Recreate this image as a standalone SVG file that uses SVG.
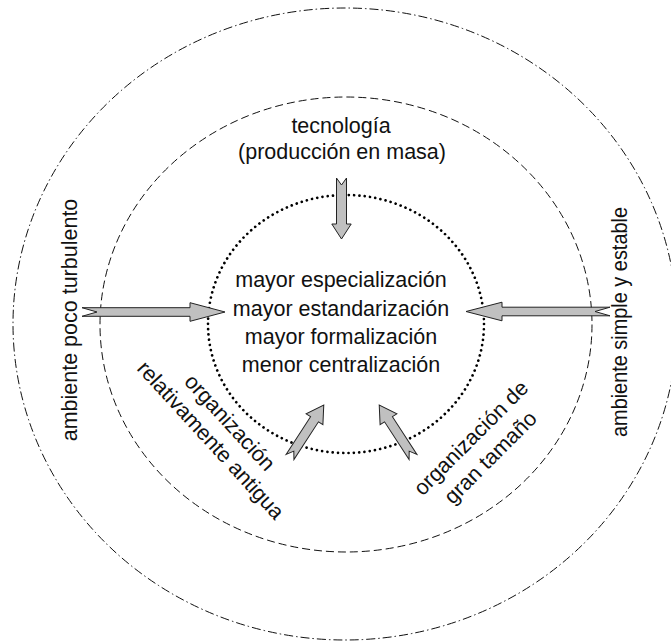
<svg xmlns="http://www.w3.org/2000/svg" width="671" height="641" viewBox="0 0 671 641">
<style>
.t{font-family:"Liberation Sans",Arial,sans-serif;font-size:21.5px;fill:#111;text-anchor:middle}
.arr{fill:#c0c0c0;stroke:#222;stroke-width:1;stroke-linejoin:miter}
</style>
<rect width="671" height="641" fill="#fff"/>
<g id="outer">
<ellipse cx="345" cy="324" rx="332" ry="316" fill="none" stroke="#111" stroke-width="1" stroke-dasharray="9 3 1.5 3"/>
<text class="t" transform="translate(77,320) rotate(-90)">ambiente poco turbulento</text>
<text class="t" transform="translate(627,322) rotate(-90)" textLength="230" lengthAdjust="spacingAndGlyphs">ambiente simple y estable</text>
</g>
<g id="middle">
<ellipse cx="346" cy="324.5" rx="246" ry="227.5" fill="none" stroke="#111" stroke-width="1" stroke-dasharray="8 4"/>
<text class="t" x="341" y="133">tecnología</text>
<text class="t" x="342" y="158.5">(producción en masa)</text>
<g transform="translate(219.75,431.75) rotate(47.5)">
<text class="t" x="0" y="-6.5">organización</text>
<text class="t" x="0" y="19.5">relativamente antigua</text>
</g>
<g transform="translate(481,448) rotate(-45)">
<text class="t" x="0" y="-7">organización de</text>
<text class="t" x="0" y="20.5">gran tamaño</text>
</g>
</g>
<g id="inner">
<ellipse cx="346" cy="324" rx="138" ry="129" fill="none" stroke="#000" stroke-width="2.7" stroke-linecap="round" stroke-dasharray="0.01 5.3"/>
<text class="t" x="341" y="287">mayor especialización</text>
<text class="t" x="341" y="315.5">mayor estandarización</text>
<text class="t" x="341" y="344">mayor formalización</text>
<text class="t" x="341" y="372">menor centralización</text>
</g>
<g id="connectors">
<path class="arr" transform="translate(82,312)" d="M0,-4.3 L108,-4.3 L108,-9.3 L143,0 L108,9.3 L108,4.3 L0,4.3 L15,0 Z"/>
<path class="arr" transform="translate(610,311.5) rotate(180)" d="M0,-4.3 L108,-4.3 L108,-9.3 L144,0 L108,9.3 L108,4.3 L0,4.3 L15,0 Z"/>
<path class="arr" transform="translate(341.5,178) rotate(90)" d="M0,-5 L46,-5 L46,-9.7 L61,0 L46,9.7 L46,5 L0,5 L7,0 Z"/>
<path class="arr" transform="translate(290,457) rotate(-57)" d="M0,-4.7 L45,-4.7 L45,-10 L62,0 L45,10 L45,4.7 L0,4.7 L7,0 Z"/>
<path class="arr" transform="translate(413,457) rotate(-123)" d="M0,-4.7 L45,-4.7 L45,-10 L62,0 L45,10 L45,4.7 L0,4.7 L7,0 Z"/>
</g>
</svg>
